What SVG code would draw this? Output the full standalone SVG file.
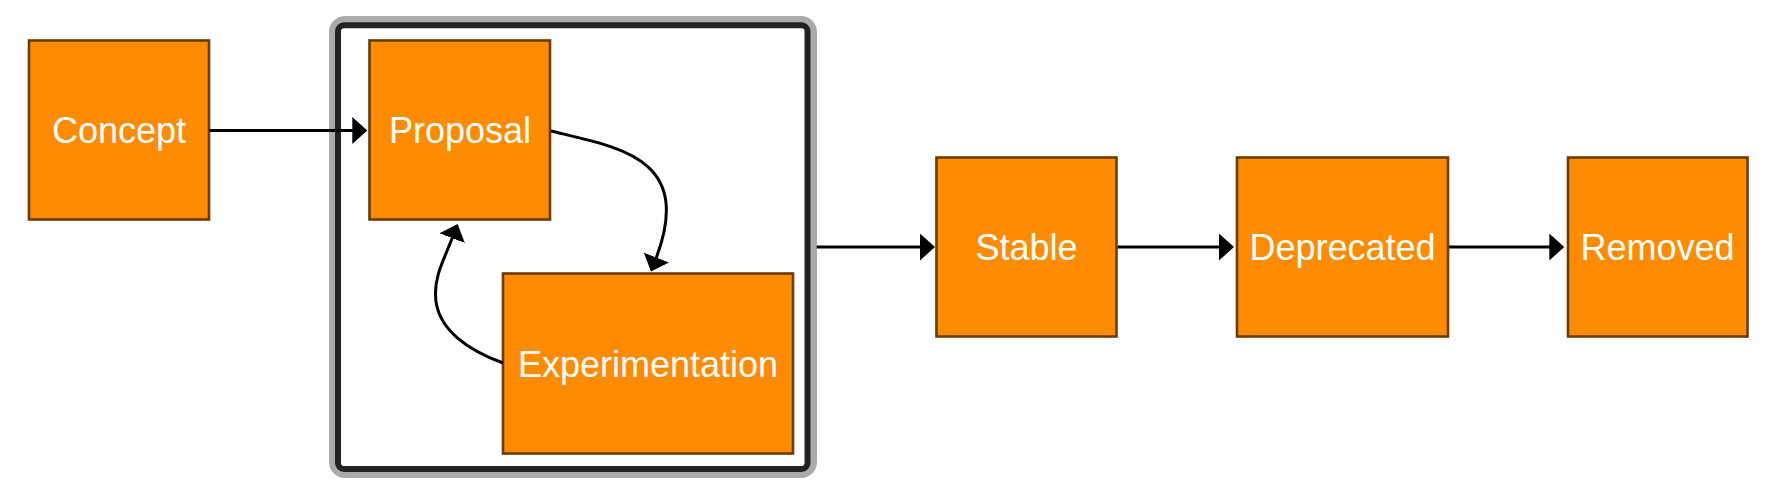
<svg xmlns="http://www.w3.org/2000/svg" width="1773" height="500" viewBox="0 0 1773 500">
  <style>
    .node rect { fill: #FF8C00; stroke: #6B3B00; stroke-width: 2.6; }
    .node text { fill: #FFFFFF; font-family: "Liberation Sans", Arial, sans-serif; font-size: 36px; text-anchor: middle; }
    .edge { fill: none; stroke: #000000; stroke-width: 3; marker-end: url(#arrow); }
  </style>
  <defs>
    <marker id="arrow" markerUnits="userSpaceOnUse" viewBox="0 0 15 27" markerWidth="15" markerHeight="27" refX="3" refY="13.5" orient="auto">
      <path d="M0,0 L15,13.5 L0,27 Z" fill="#000000"/>
    </marker>
  </defs>
  <rect width="1773" height="500" fill="#FFFFFF"/>

  <g id="container">
    <rect x="335" y="22" width="476" height="450" rx="10" ry="10" fill="none" stroke="#AAAAAA" stroke-width="12"/>
    <rect x="338" y="25.3" width="469.5" height="443.7" rx="6" ry="6" fill="#FFFFFF" stroke="#222222" stroke-width="6"/>
  </g>

  <g id="concept" class="node">
    <rect x="29" y="40.5" width="180" height="179"/>
    <text x="119" y="143">Concept</text>
  </g>
  <g id="proposal" class="node">
    <rect x="369.5" y="40.5" width="180.5" height="179"/>
    <text x="460" y="143">Proposal</text>
  </g>
  <g id="experimentation" class="node">
    <rect x="503" y="273.5" width="290" height="180"/>
    <text x="648" y="376.5">Experimentation</text>
  </g>
  <g id="stable" class="node">
    <rect x="936.5" y="157.5" width="180" height="179"/>
    <text x="1026.5" y="260">Stable</text>
  </g>
  <g id="deprecated" class="node">
    <rect x="1237" y="157.5" width="211" height="179"/>
    <text x="1342.5" y="260">Deprecated</text>
  </g>
  <g id="removed" class="node">
    <rect x="1568" y="157.5" width="179.5" height="179"/>
    <text x="1657.5" y="260">Removed</text>
  </g>

  <g id="connectors">
    <path class="edge" d="M209.7,130.5 L355.3,130.5"/>
    <path class="edge" d="M551,131 C621,148 694.9,158 655.3,260.3"/>
    <path class="edge" d="M503,363 C470,351 436,330 435.5,295 C435,275 443,262 453.3,235.3"/>
    <path class="edge" d="M816.7,247 L923,247"/>
    <path class="edge" d="M1117.7,247 L1222,247"/>
    <path class="edge" d="M1449,247 L1552.3,247"/>
  </g>
</svg>
